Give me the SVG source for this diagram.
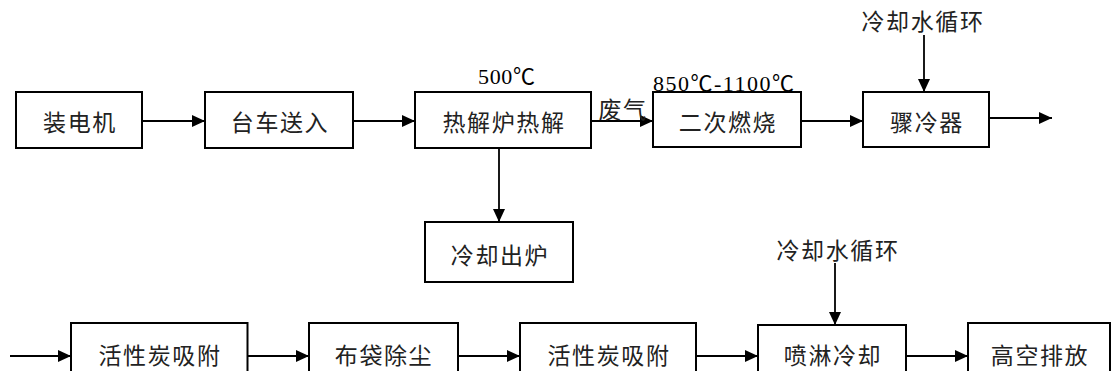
<svg xmlns="http://www.w3.org/2000/svg" width="1113" height="371" viewBox="0 0 1113 371">
<style>
.box{fill:#fff;stroke:#000;stroke-width:2}
.t{font-family:"Noto Sans CJK SC","Liberation Serif",sans-serif;font-size:23px;letter-spacing:1.6px;fill:#222;text-anchor:middle}
.n{font-family:"Liberation Serif","Noto Sans CJK SC",serif;font-size:22px;fill:#000}
.c{fill:none;stroke:#000;stroke-width:1.8;marker-end:url(#ah)}
</style>
<defs>
<marker id="ah" markerWidth="13" markerHeight="12" refX="13" refY="6" orient="auto" markerUnits="userSpaceOnUse">
<path d="M0,0 L13,6 L0,12 Z" fill="#000"/>
</marker>
</defs>
<g id="connectors">
<line class="c" x1="142" y1="121" x2="205" y2="121"/>
<line class="c" x1="353" y1="121" x2="415" y2="121"/>
<line class="c" x1="591" y1="121" x2="653" y2="121"/>
<line class="c" x1="801" y1="121" x2="863" y2="121"/>
<line class="c" x1="989" y1="118" x2="1052" y2="118"/>
<line class="c" x1="924" y1="35" x2="924" y2="92"/>
<line class="c" x1="499" y1="148" x2="499" y2="222"/>
<line class="c" x1="10" y1="356" x2="71" y2="356"/>
<line class="c" x1="247.5" y1="356" x2="309" y2="356"/>
<line class="c" x1="458" y1="356" x2="520" y2="356"/>
<line class="c" x1="696" y1="356" x2="758" y2="356"/>
<line class="c" x1="906" y1="356" x2="968" y2="356"/>
<line class="c" x1="835" y1="263" x2="835" y2="325"/>
</g>
<g id="n1"><rect class="box" x="16" y="92" width="126" height="56"/><text class="t" x="80" y="131">装电机</text></g>
<g id="n2"><rect class="box" x="205" y="92" width="148" height="56"/><text class="t" x="280" y="131">台车送入</text></g>
<g id="n3"><rect class="box" x="415" y="92" width="176" height="56"/><text class="t" x="504" y="131">热解炉热解</text></g>
<g id="n3t"><text class="n" x="478" y="84" textLength="57" lengthAdjust="spacing">500℃</text></g>
<g id="lbl"><text class="t" x="623" y="118">废气</text></g>
<g id="n4"><rect class="box" x="653" y="92" width="148" height="55"/><text class="t" x="728" y="131">二次燃烧</text></g>
<g id="n4t"><text class="n" x="653" y="91" textLength="141" lengthAdjust="spacing">850℃-1100℃</text></g>
<g id="n5"><rect class="box" x="863" y="92" width="126" height="55"/><text class="t" x="927" y="131">骤冷器</text></g>
<g id="w1"><text class="t" x="923" y="30">冷却水循环</text></g>
<g id="n6"><rect class="box" x="425" y="222" width="148" height="60"/><text class="t" x="500" y="264">冷却出炉</text></g>
<g id="n7"><rect class="box" x="71" y="323" width="176.5" height="58"/><text class="t" x="160" y="364">活性炭吸附</text></g>
<g id="n8"><rect class="box" x="309" y="323" width="149" height="58"/><text class="t" x="384" y="364">布袋除尘</text></g>
<g id="n9"><rect class="box" x="520" y="323" width="176" height="58"/><text class="t" x="609" y="364">活性炭吸附</text></g>
<g id="n10"><rect class="box" x="758" y="325" width="148" height="56"/><text class="t" x="833" y="364">喷淋冷却</text></g>
<g id="n11"><rect class="box" x="968" y="323" width="142" height="58"/><text class="t" x="1040" y="364">高空排放</text></g>
<g id="w2"><text class="t" x="838" y="259">冷却水循环</text></g>
</svg>
